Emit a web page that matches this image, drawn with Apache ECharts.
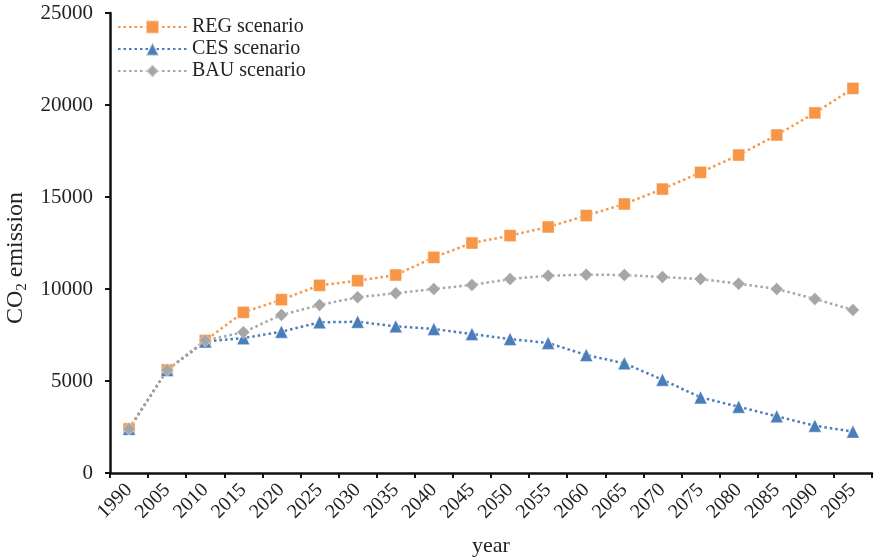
<!DOCTYPE html>
<html><head><meta charset="utf-8">
<script src="https://cdn.jsdelivr.net/npm/echarts@6/dist/echarts.min.js"></script>
<style>html,body{margin:0;padding:0;background:#fff}#c{width:874px;height:560px}</style>
</head><body><div id="c"></div>
<script>
var years = ['1990','2005','2010','2015','2020','2025','2030','2035','2040','2045','2050','2055','2060','2065','2070','2075','2080','2085','2090','2095'];
var regValues = [2400,5600,7200,8730,9420,10200,10450,10760,11720,12500,12900,13370,13990,14620,15430,16340,17280,18370,19570,20900];
var cesValues = [2400,5600,7150,7330,7680,8190,8220,7970,7830,7550,7280,7070,6410,5960,5070,4110,3600,3080,2570,2250];
var bauValues = [2400,5600,7200,7650,8590,9130,9550,9770,10000,10220,10540,10720,10780,10760,10650,10540,10290,10000,9460,8860];
var yTicks = [0,5000,10000,15000,20000,25000];
var seriesNames = ['REG scenario','CES scenario','BAU scenario'];

var FONT = '"Liberation Serif", "DejaVu Serif", serif';
var chart = echarts.init(document.getElementById('c'));
function mk(name, data, color, symbol, size) {
  return {
    name: name, type: 'line', data: data, symbol: symbol, symbolSize: size,
    itemStyle: {color: color, borderColor: 'rgba(255,255,255,0.45)', borderWidth: 1},
    lineStyle: {color: color, width: 2.5, type: [2.5, 3]},
    emphasis: {disabled: true}, animation: false
  };
}
chart.setOption({
  animation: false,
  textStyle: {fontFamily: FONT},
  grid: {left: 110, right: 2, top: 13, bottom: 87, containLabel: false, outerBoundsMode: 'none'},
  legend: {
    orient: 'vertical', left: 112, top: 12, itemGap: 2, itemWidth: 69, itemHeight: 16,
    textStyle: {fontFamily: FONT, fontSize: 20, color: '#222', lineHeight: 20},
    data: seriesNames
  },
  xAxis: {
    type: 'category', data: years, boundaryGap: true,
    name: 'year', nameLocation: 'middle', nameGap: 62,
    nameTextStyle: {fontFamily: FONT, fontSize: 22, color: '#222'},
    axisLine: {lineStyle: {color: '#111', width: 2.5}},
    axisTick: {show: true, length: 5, lineStyle: {color: '#111', width: 2}, alignWithLabel: false},
    axisLabel: {rotate: 45, fontFamily: FONT, fontSize: 20, color: '#222', margin: 14, interval: 0},
    splitLine: {show: false}
  },
  yAxis: {
    type: 'value', min: yTicks[0], max: yTicks[yTicks.length-1], interval: 5000,
    name: '{a|CO}{b|2}{a| emission}', nameLocation: 'middle', nameGap: 77, nameRotate: 90,
    nameTextStyle: {padding: [0, 30, 0, 0], rich: {
      a: {fontFamily: FONT, fontSize: 24, color: '#222', lineHeight: 27},
      b: {fontFamily: FONT, fontSize: 15, color: '#222', lineHeight: 6, verticalAlign: 'bottom'}
    }},
    axisLine: {show: true, lineStyle: {color: '#111', width: 2.5}},
    axisTick: {show: true, length: 5, lineStyle: {color: '#111', width: 2}},
    axisLabel: {fontFamily: FONT, fontSize: 21, color: '#222', margin: 17,
      formatter: function (v) { return String(v); }},
    splitLine: {show: false}
  },
  series: [
    mk(seriesNames[0], regValues, '#F79646', 'rect', 12),
    mk(seriesNames[1], cesValues, '#4A7EBB', 'triangle', 13),
    mk(seriesNames[2], bauValues, '#A6A6A6', 'diamond', 13)
  ]
});
</script></body></html>
